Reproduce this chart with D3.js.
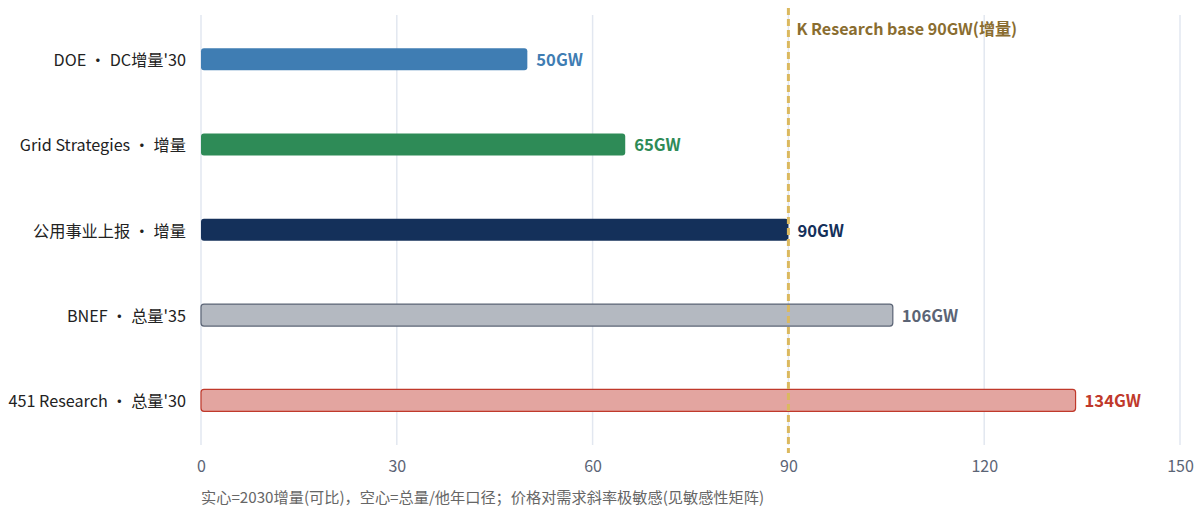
<!DOCTYPE html>
<html><head><meta charset="utf-8">
<script src="https://cdn.jsdelivr.net/npm/d3@7"></script>
<style>
body{margin:0;background:#fff;}
text{font-family:"Noto Sans CJK SC","Noto Sans",sans-serif;}
</style></head>
<body><svg id="c" width="1201" height="511"></svg>
<script>
const categories = ["DOE · DC增量'30","Grid Strategies · 增量","公用事业上报 · 增量","BNEF · 总量'35","451 Research · 总量'30"];
const values = [50,65,90,106,134];
const hollow = [false,false,false,true,true];
const fills = ["#3f7db3","#2e8b57","#14305a","#b4b9c1","#e3a5a0"];
const strokes = ["#3f7db3","#2e8b57","#14305a","#5b6475","#c0392b"];
const labelColors = ["#3f7db3","#2e8b57","#14305a","#5b6475","#c0392b"];
const xTicks = [0,30,60,90,120,150];
const baseValue = 90;
const baseLabel = "K Research base 90GW(增量)";
const footnote = "实心=2030增量(可比)，空心=总量/他年口径；价格对需求斜率极敏感(见敏感性矩阵)";

const svg = d3.select("#c");
const x = d3.scaleLinear().domain([0,150]).range([201,1180]);
const y = d3.scaleBand().domain(categories).range([16.5,443]).padding(0);
const barH = 23;

// grid
svg.append("g").selectAll("line").data(xTicks).join("line")
  .attr("x1",d=>x(d)).attr("x2",d=>x(d)).attr("y1",15).attr("y2",445)
  .attr("stroke","#e2e7f0").attr("stroke-width",1.5);

// x axis labels
const xa = svg.append("g").attr("transform","translate(0,445)")
  .call(d3.axisBottom(x).tickValues(xTicks).tickSize(0).tickPadding(16));
xa.select(".domain").remove();
xa.selectAll("text").attr("font-size",16).attr("fill","#5b6475")
  .style("font-family",'"Noto Sans CJK SC","Noto Sans",sans-serif');

// y axis labels
const ya = svg.append("g").attr("transform","translate(186,0)")
  .call(d3.axisLeft(y).tickSize(0).tickPadding(0));
ya.select(".domain").remove();
ya.selectAll("text").attr("font-size",16.2).attr("fill","#222").attr("dy","0.42em")
  .style("font-family",'"Noto Sans CJK SC","Noto Sans",sans-serif');

const data = categories.map((c,i)=>({c,v:values[i],i}));
// bars
svg.append("g").selectAll("rect").data(data).join("rect")
  .attr("x",x(0)).attr("y",d=>y(d.c)+y.bandwidth()/2-barH/2+0.5)
  .attr("width",d=>x(d.v)-x(0)).attr("height",barH-1)
  .attr("rx",3).attr("ry",3)
  .attr("fill",d=>fills[d.i])
  .attr("stroke",d=>hollow[d.i]?strokes[d.i]:"none")
  .attr("stroke-width",1.2);

// value labels
svg.append("g").selectAll("text").data(data).join("text")
  .attr("x",d=>x(d.v)+9).attr("y",d=>y(d.c)+y.bandwidth()/2)
  .attr("dy","0.42em").attr("font-size",16.6).attr("font-weight","bold")
  .attr("fill",d=>labelColors[d.i]).text(d=>d.v+"GW");

// base line
svg.append("line").attr("x1",x(baseValue)).attr("x2",x(baseValue))
  .attr("y1",8).attr("y2",453).attr("stroke","#dbb95f")
  .attr("stroke-width",3).attr("stroke-dasharray","7,4");
svg.append("text").attr("x",x(baseValue)+8).attr("y",35)
  .attr("font-size",16.1).attr("font-weight","bold").attr("fill","#8a6d30")
  .text(baseLabel);

svg.append("text").attr("x",201).attr("y",503).attr("font-size",15.2)
  .attr("fill","#666").text(footnote);
</script></body></html>
